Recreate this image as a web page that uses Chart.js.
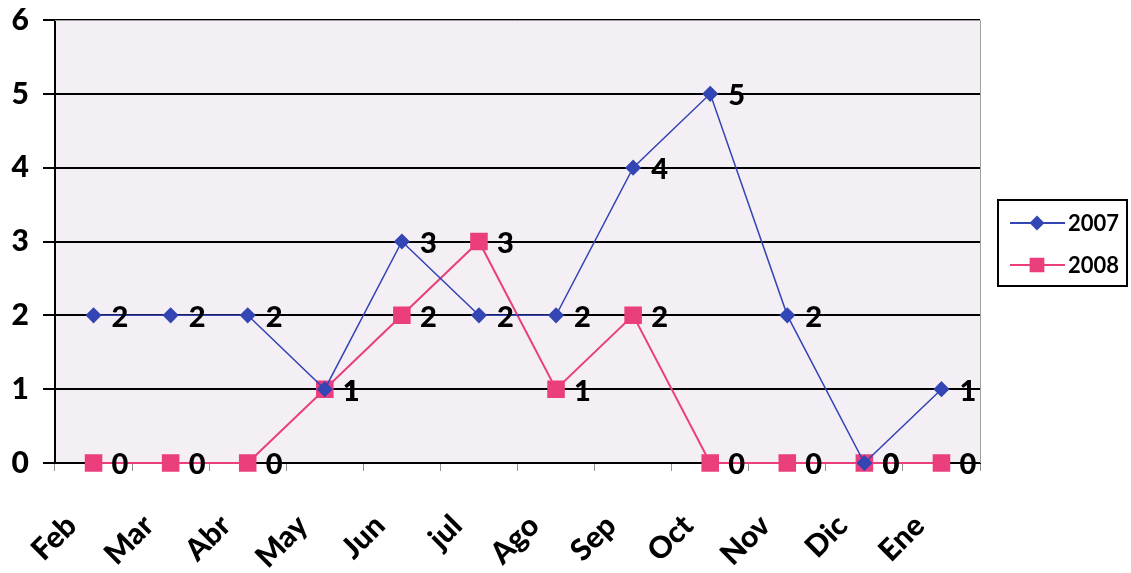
<!DOCTYPE html>
<html>
<head>
<meta charset="utf-8">
<script src="https://cdn.jsdelivr.net/npm/chart.js@4"></script>
<style>
  html, body { margin: 0; padding: 0; background: #fff; }
  #wrap { width: 1131px; height: 573px; }
</style>
</head>
<body>
<div id="wrap"><canvas id="myChart"></canvas></div>
<script>
const months = ['Feb', 'Mar', 'Abr', 'May', 'Jun', 'jul', 'Ago', 'Sep', 'Oct', 'Nov', 'Dic', 'Ene'];
const values2007 = [2, 2, 2, 1, 3, 2, 2, 4, 5, 2, 0, 1];
const values2008 = [0, 0, 0, 1, 2, 3, 1, 2, 0, 0, 0, 0];
const yTicks = [0, 1, 2, 3, 4, 5, 6];

const blue = '#3445b4';
const pink = '#ea3f7c';
const fontName = 'Lato, "Open Sans", sans-serif';

// plot background, top/right border, legend box, value labels
const decor = {
  id: 'decor',
  beforeDraw(chart) {
    const { ctx, chartArea: a } = chart;
    ctx.save();
    ctx.fillStyle = '#f4eff4';
    ctx.fillRect(a.left, a.top, a.right - a.left, a.bottom - a.top);
    ctx.restore();
  },
  afterDraw(chart) {
    const { ctx, chartArea: a } = chart;
    ctx.save();
    ctx.strokeStyle = '#a0a0a0';
    ctx.lineWidth = 1;
    ctx.beginPath();
    ctx.moveTo(a.left, a.top + 0.5);
    ctx.lineTo(a.right + 0.5, a.top + 0.5);
    ctx.lineTo(a.right + 0.5, a.bottom);
    ctx.stroke();

    // value labels
    ctx.fillStyle = '#000';
    ctx.font = '900 29px ' + fontName;
    ctx.textAlign = 'left';
    ctx.textBaseline = 'middle';
    chart.data.datasets.forEach((ds, i) => {
      chart.getDatasetMeta(i).data.forEach((pt, j) => {
        ctx.fillText(String(ds.data[j]), pt.x + 18, pt.y + 2);
      });
    });

    // legend
    ctx.strokeStyle = '#000';
    ctx.lineWidth = 2;
    ctx.strokeRect(998, 200, 129, 86);
    ctx.font = 'bold 22px ' + fontName;
    const items = [
      { label: '2007', color: blue, style: 'rectRot', r: 6, y: 223 },
      { label: '2008', color: pink, style: 'rect', r: 9, y: 265 }
    ];
    items.forEach(it => {
      ctx.strokeStyle = it.color;
      ctx.lineWidth = 2;
      ctx.beginPath();
      ctx.moveTo(1010, it.y);
      ctx.lineTo(1065, it.y);
      ctx.stroke();
      ctx.fillStyle = it.color;
      Chart.helpers.drawPoint(ctx, { pointStyle: it.style, radius: it.r, borderWidth: 1 }, 1037, it.y);
      ctx.fill();
      ctx.fillStyle = '#000';
      ctx.fillText(it.label, 1068, it.y + 1);
    });
    ctx.restore();
  }
};

new Chart(document.getElementById('myChart'), {
  type: 'line',
  data: {
    labels: months,
    datasets: [
      {
        label: '2007',
        data: values2007,
        borderColor: blue,
        backgroundColor: blue,
        borderWidth: 1.5,
        pointStyle: 'rectRot',
        pointRadius: 7,
        pointHoverRadius: 7,
        tension: 0,
        clip: false
      },
      {
        label: '2008',
        data: values2008,
        borderColor: pink,
        backgroundColor: pink,
        borderWidth: 2,
        pointStyle: 'rect',
        pointRadius: 11,
        pointHoverRadius: 11,
        tension: 0,
        clip: false
      }
    ]
  },
  options: {
    responsive: true,
    maintainAspectRatio: false,
    animation: false,
    layout: { padding: { top: 20, right: 151, left: 0, bottom: 0 } },
    plugins: {
      legend: { display: false },
      tooltip: { enabled: false }
    },
    scales: {
      x: {
        offset: true,
        grid: {
          offset: true,
          drawOnChartArea: false,
          drawTicks: true,
          tickLength: 8,
          color: '#909090'
        },
        border: { color: '#000', width: 2 },
        ticks: {
          color: '#000',
          font: { family: fontName, size: 30, weight: 900 },
          minRotation: 45,
          maxRotation: 45,
          padding: 37,
          labelOffset: -22
        },
        afterFit(scale) {
          scale.height = 110;
          scale.paddingLeft = 0;
          scale.paddingRight = 0;
        }
      },
      y: {
        min: 0,
        max: 6,
        afterBuildTicks(scale) { scale.ticks = yTicks.map(v => ({ value: v })); },
        grid: {
          color: '#000',
          lineWidth: 2,
          tickLength: 12
        },
        border: { color: '#000', width: 2 },
        ticks: {
          color: '#000',
          font: { family: fontName, size: 30, weight: 900 },
          padding: 14
        },
        afterFit(scale) {
          scale.width = 55;
          scale.paddingTop = 0;
          scale.paddingBottom = 0;
        }
      }
    }
  },
  plugins: [decor]
});
</script>
</body>
</html>
